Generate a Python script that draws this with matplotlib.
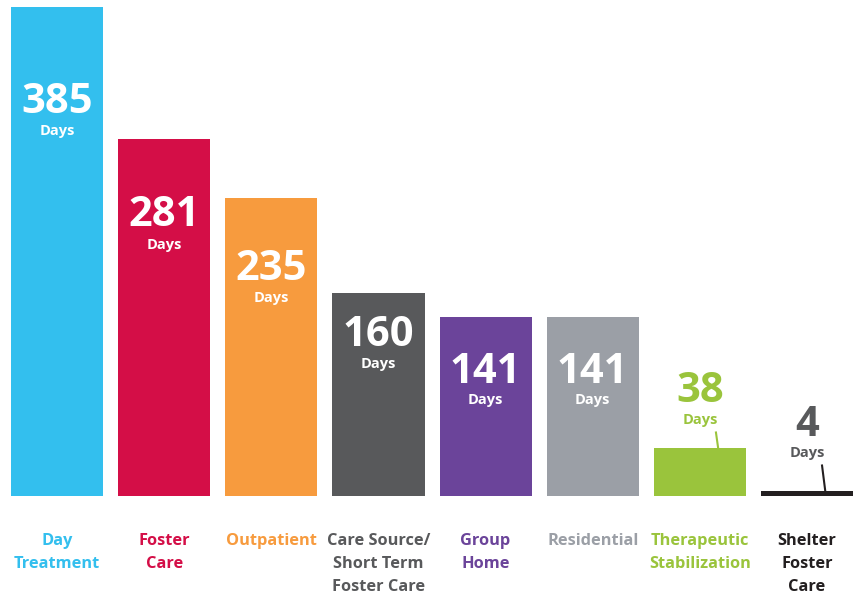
import matplotlib.pyplot as plt

categories = ['Day\nTreatment', 'Foster\nCare', 'Outpatient', 'Care Source/\nShort Term\nFoster Care',
              'Group\nHome', 'Residential', 'Therapeutic\nStabilization', 'Shelter\nFoster\nCare']
days = [385, 281, 235, 160, 141, 141, 38, 4]
colors = ['#33BFEE', '#D40E47', '#F79B3E', '#58595B', '#6B449A', '#9B9FA6', '#9AC43C', '#231F20']
label_colors = ['#33BFEE', '#D40E47', '#F79B3E', '#58595B', '#6B449A', '#9B9FA6', '#9AC43C', '#231F20']
value_colors = ['white'] * 6 + ['#9AC43C', '#58595B']

# where the "NNN / Days" labels sit (data units)
num_y = [310, 220.5, 178, 126.5, 97.5, 97.5, 82, 55.5]
days_y = [287.5, 197.5, 156, 104, 75.8, 75.8, 59.5, 34]

plt.rcParams['font.family'] = ['Open Sans', 'DejaVu Sans']

fig = plt.figure(figsize=(8.56, 5.94), dpi=100)
ax = fig.add_axes([0, 0, 1, 1])
x = list(range(len(days)))
ax.bar(x, days, width=0.86, color=colors)

for i in x:
    ax.text(i, num_y[i], str(days[i]), ha='center', va='center', fontsize=30,
            fontweight='bold', color=value_colors[i])
    ax.text(i, days_y[i], 'Days', ha='center', va='center', fontsize=10.5,
            fontweight='bold', color=value_colors[i])
    ax.text(i, -29.5, categories[i], ha='center', va='top', fontsize=11.8,
            fontweight='bold', color=label_colors[i], linespacing=1.55)

# connector ticks for the small bars
ax.plot([6.15, 6.17], [50, days[6]], color='#9AC43C', lw=1.5)
ax.plot([7.14, 7.17], [24, days[7]], color='#231F20', lw=1.5)

ax.set_xlim(-0.532, 7.457)
ax.set_ylim(-77.2, 390.6)
ax.axis('off')
fig.savefig('out.png', dpi=100)
